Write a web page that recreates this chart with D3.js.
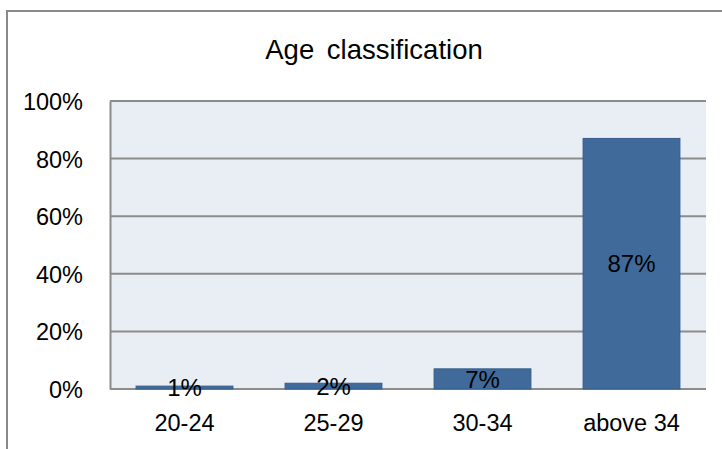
<!DOCTYPE html>
<html>
<head>
<meta charset="utf-8">
<script src="https://cdn.jsdelivr.net/npm/d3@7"></script>
<style>
  html, body { margin: 0; padding: 0; background: #fff; }
  svg { display: block; }
  text { font-family: "Liberation Sans", Arial, sans-serif; fill: #000; }
</style>
</head>
<body>
<svg id="chart" width="722" height="449"></svg>
<script>
// Age groups and their share of respondents
const categories = ["20-24", "25-29", "30-34", "above 34"];
const shares = [0.01, 0.02, 0.07, 0.87];
const tickValues = [0, 0.2, 0.4, 0.6, 0.8, 1.0];
const chartTitle = "Age classification";

const svg = d3.select("#chart");
const W = 722, H = 449;
const plot = { left: 110, right: 706, top: 101, bottom: 389 };

// outer chart frame
svg.append("rect")
  .attr("x", 7).attr("y", 11)
  .attr("width", W + 20).attr("height", H + 20)
  .attr("fill", "#fff")
  .attr("stroke", "#8a8a8a").attr("stroke-width", 2);

svg.append("text")
  .attr("x", 374).attr("y", 59)
  .attr("text-anchor", "middle")
  .attr("font-size", 27.5)
  .attr("word-spacing", 5)
  .text(chartTitle);

const x = d3.scaleBand()
  .domain(categories)
  .range([plot.left, plot.right])
  .paddingInner(0.35)
  .paddingOuter(0.175);

const y = d3.scaleLinear()
  .domain([0, 1])
  .range([plot.bottom, plot.top]);

// plot background
svg.append("rect")
  .attr("x", plot.left).attr("y", plot.top)
  .attr("width", plot.right - plot.left)
  .attr("height", plot.bottom - plot.top)
  .attr("fill", "#e9edf4");

// horizontal gridlines
svg.append("g")
  .selectAll("line")
  .data(tickValues)
  .join("line")
  .attr("x1", plot.left).attr("x2", plot.right)
  .attr("y1", d => y(d)).attr("y2", d => y(d))
  .attr("stroke", "#8c8c8c").attr("stroke-width", 2);

// value axis
const yAxis = d3.axisLeft(y)
  .tickValues(tickValues)
  .tickFormat(d3.format(".0%"))
  .tickSize(0)
  .tickPadding(27);

const gy = svg.append("g")
  .attr("transform", `translate(${plot.left},0)`)
  .call(yAxis);
gy.select(".domain").attr("stroke", "#8c8c8c").attr("stroke-width", 2);
gy.selectAll("text")
  .attr("font-size", 23.5)
  .attr("font-family", "Liberation Sans, Arial, sans-serif")
  .attr("dy", "0.36em");

// category axis
const xAxis = d3.axisBottom(x).tickSize(0).tickPadding(25);
const gx = svg.append("g")
  .attr("transform", `translate(0,${plot.bottom})`)
  .call(xAxis);
gx.select(".domain").remove();
gx.selectAll("text")
  .attr("font-size", 23.5)
  .attr("font-family", "Liberation Sans, Arial, sans-serif");

// bars
svg.append("g")
  .selectAll("rect")
  .data(categories)
  .join("rect")
  .attr("x", d => x(d))
  .attr("width", x.bandwidth())
  .attr("y", (d, i) => y(shares[i]))
  .attr("height", (d, i) => y(0) - y(shares[i]))
  .attr("fill", "#3f6a9a")
  .attr("stroke", "#375e8c").attr("stroke-width", 1);

// value labels centred on each bar
svg.append("g")
  .selectAll("text")
  .data(categories)
  .join("text")
  .attr("x", d => x(d) + x.bandwidth() / 2)
  .attr("y", (d, i) => (y(shares[i]) + y(0)) / 2)
  .attr("dy", "0.36em")
  .attr("text-anchor", "middle")
  .attr("font-size", 24)
  .text((d, i) => d3.format(".0%")(shares[i]));
</script>
</body>
</html>
